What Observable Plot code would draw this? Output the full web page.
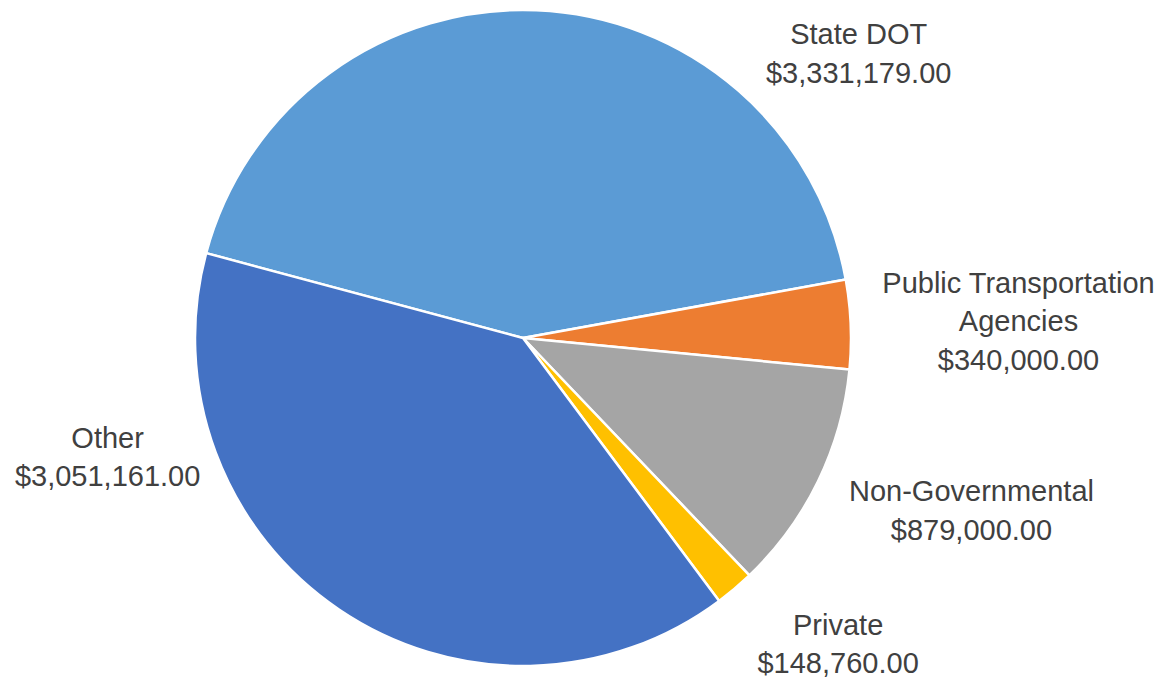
<!DOCTYPE html>
<html>
<head>
<meta charset="utf-8">
<script src="https://cdn.jsdelivr.net/npm/d3@7"></script>
<script src="https://cdn.jsdelivr.net/npm/@observablehq/plot@0.6"></script>
<style>
  html, body { margin: 0; padding: 0; background: #ffffff; overflow: hidden; }
  #chart svg { display: block; }
</style>
</head>
<body>
<div id="chart"></div>
<script>
// ---- data ----
const categories = ["State DOT", "Public Transportation Agencies", "Non-Governmental", "Private", "Other"];
const labelNames = ["State DOT", "Public Transportation\nAgencies", "Non-Governmental", "Private", "Other"];
const amounts = [3331179, 340000, 879000, 148760, 3051161];

// ---- styles / layout ----
const colors = ["#5B9BD5", "#ED7D31", "#A5A5A5", "#FFC000", "#4472C4"];
const startDeg = 285;                              // first slice edge (clockwise from 12 o'clock)
const labelAngleDeg = [49.7, 88.1, 111.1, 134.2, 254.0]; // label direction
const labelDist = [1.34, 1.51, 1.464, 1.338, 1.319];     // label distance in radii

const W = 1162, H = 681, CX = 523, CY = 338, R = 328;

const fmt = v => "$" + d3.format(",.2f")(v);
const table = categories.map((c, i) => {
  const a = labelAngleDeg[i] * Math.PI / 180;
  return {
    category: c,
    amount: amounts[i],
    label: labelNames[i] + "\n" + fmt(amounts[i]),
    lx: labelDist[i] * Math.sin(a),
    ly: labelDist[i] * Math.cos(a)
  };
});

const pie = d3.pie().sort(null).value(d => d.amount)
  .startAngle(startDeg * Math.PI / 180)
  .endAngle(startDeg * Math.PI / 180 + 2 * Math.PI);
const arcsData = pie(table);

function pieMark(index, scales) {
  const cx = scales.x(0), cy = scales.y(0);
  const r = scales.x(1) - scales.x(0);
  const arc = d3.arc().innerRadius(0).outerRadius(r);
  const g = d3.create("svg:g").attr("transform", `translate(${cx},${cy})`);
  g.selectAll("path").data(arcsData).join("path")
    .attr("d", arc)
    .attr("fill", (d, i) => colors[i])
    .attr("stroke", "#ffffff")
    .attr("stroke-width", 2.5)
    .attr("stroke-linejoin", "round");
  return g.node();
}

const chart = Plot.plot({
  width: W,
  height: H,
  margin: 0,
  x: {domain: [(0 - CX) / R, (W - CX) / R], axis: null},
  y: {domain: [-(H - CY) / R, CY / R], axis: null},
  style: {fontFamily: "'Liberation Sans', Arial, sans-serif", background: "#ffffff"},
  marks: [
    pieMark,
    Plot.text(table, {
      x: "lx", y: "ly", text: "label",
      fontSize: 29,
      lineHeight: 38.5 / 29,
      lineAnchor: "middle",
      textAnchor: "middle",
      dy: -3,
      fill: "#404040",
      fontFamily: "'Liberation Sans', Arial, sans-serif"
    })
  ]
});
document.getElementById("chart").appendChild(chart);
</script>
</body>
</html>
